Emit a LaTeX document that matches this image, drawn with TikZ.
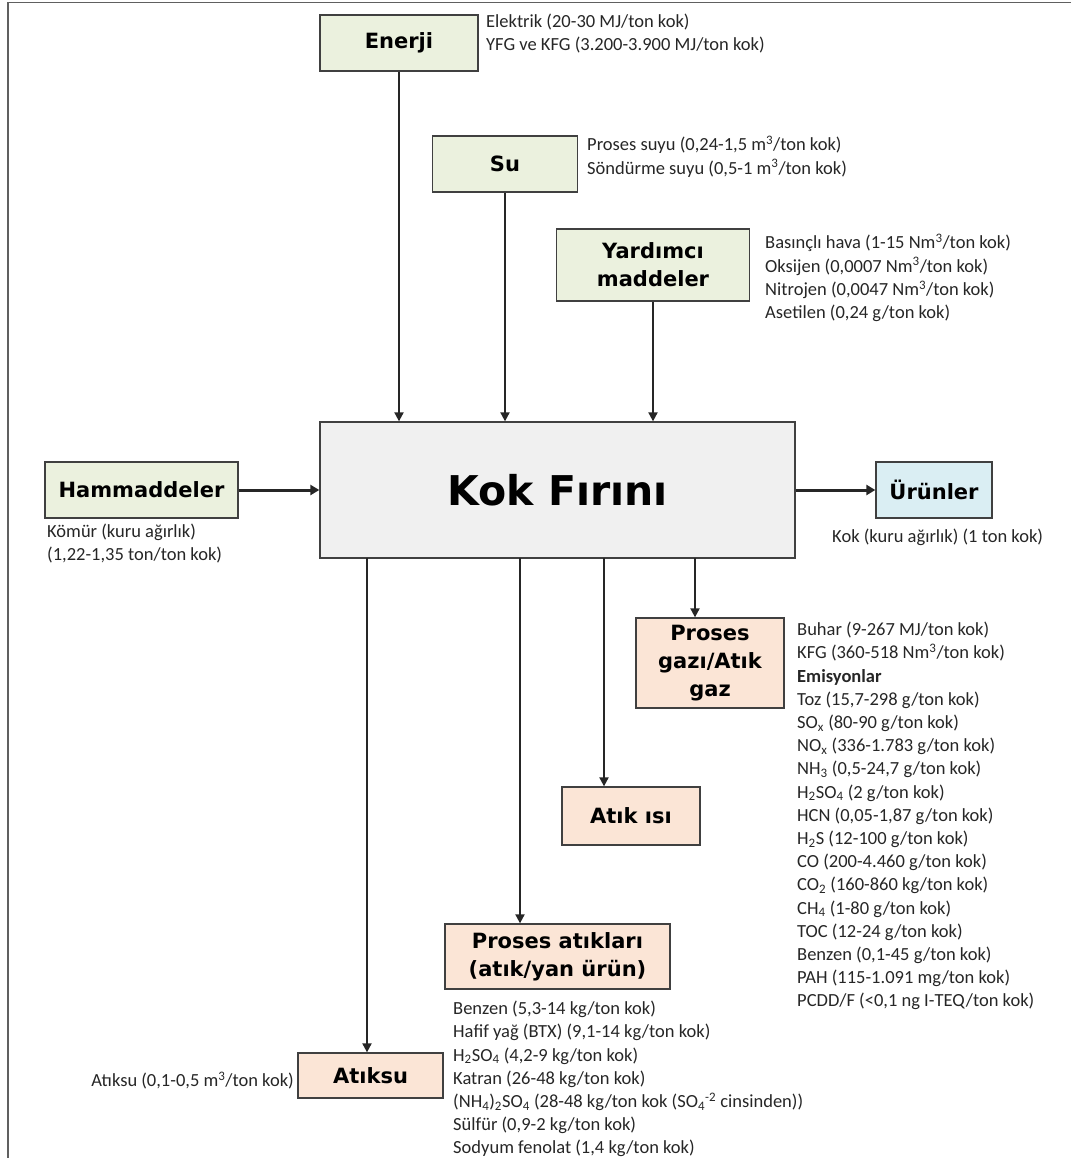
\documentclass[tikz,border=0pt]{standalone}
\usepackage{fontspec}
\setmainfont{Carlito}
\newfontfamily\boxfont{DejaVu Sans}
\usetikzlibrary{arrows.meta,calc}
\definecolor{gfill}{HTML}{EBF1DE}
\definecolor{kfill}{HTML}{F0F0F0}
\definecolor{bfill}{HTML}{DAEEF3}
\definecolor{pfill}{HTML}{FBE5D6}
\definecolor{edge}{HTML}{404040}
\definecolor{frame}{HTML}{606060}
\definecolor{txt}{HTML}{262626}
\newcommand{\sbs}[1]{\textsubscript{#1}}
\newcommand{\sps}[1]{\textsuperscript{#1}}
\begin{document}
\begin{tikzpicture}[x=1pt,y=-1pt,
  boxnode/.style={draw=edge,line width=1.3pt,rectangle,inner sep=0pt,align=center,
     font=\boxfont\bfseries\fontsize{21}{28}\selectfont,text=black},
  gbox/.style={boxnode,fill=gfill},
  pbox/.style={boxnode,fill=pfill},
  lst/.style={inner sep=0pt,align=left,anchor=north west,text=txt,
     font=\fontsize{18.5}{23.2}\selectfont},
  arr/.style={draw=black!85,line width=2pt,-{Triangle[length=9pt,width=9pt]}},
  harr/.style={draw=black!85,line width=3pt,-{Triangle[length=9pt,width=10pt]}}
]
\useasboundingbox (0,0) rectangle (1071,1158);
\draw[frame,line width=1.6pt] (1071,2.5) -- (8,2.5) -- (8,1158);

% boxes
\node[gbox,minimum width=158pt,minimum height=56pt] (enerji) at (399,43) {Enerji};
\node[gbox,minimum width=145pt,minimum height=56pt] (su) at (505,164) {Su};
\node[gbox,minimum width=193pt,minimum height=72pt] (yard) at (653,265) {Yardımcı\\maddeler};
\node[boxnode,fill=kfill,minimum width=475pt,minimum height=136pt,
      font=\boxfont\bfseries\fontsize{41}{48}\selectfont] (kok) at (557.5,490) {Kok Fırını};
\node[gbox,minimum width=193pt,minimum height=56pt] (ham) at (141.5,490) {Hammaddeler};
\node[boxnode,fill=bfill,minimum width=116pt,minimum height=56pt] (urun) at (934,490) {Ürünler};
\node[pbox,minimum width=148pt,minimum height=90pt] (gaz) at (710,663) {Proses\\gazı/Atık\\gaz};
\node[pbox,minimum width=138pt,minimum height=58pt] (isi) at (631,816) {Atık ısı};
\node[pbox,minimum width=225pt,minimum height=65pt] (pa) at (557.5,956.5) {Proses atıkları\\(atık/yan ürün)};
\node[pbox,minimum width=145pt,minimum height=45pt] (atiksu) at (370.5,1075.5) {Atıksu};

% connectors
\draw[arr] (enerji.south) -- (enerji.south |- kok.north);
\draw[arr] (su.south) -- (su.south |- kok.north);
\draw[arr] (yard.south) -- (yard.south |- kok.north);
\draw[harr] (ham.east) -- (ham.east -| kok.west);
\draw[harr] (kok.east |- urun.west) -- (urun.west);
\coordinate (k1) at (367,558);
\coordinate (k2) at (520,558);
\coordinate (k3) at (604,558);
\coordinate (k4) at (695,558);
\draw[arr] (k1) -- (k1 |- atiksu.north);
\draw[arr] (k2) -- (k2 |- pa.north);
\draw[arr] (k3) -- (k3 |- isi.north);
\draw[arr] (k4) -- (k4 |- gaz.north);

% labels
\node[lst] (tEnerji) at (486,14) {Elektrik (20-30 MJ/ton kok)\\YFG ve KFG (3.200-3.900 MJ/ton kok)};
\node[lst] (tSu) at (587,136) {Proses suyu (0,24-1,5 m\sps{3}/ton kok)\\Söndürme suyu (0,5-1 m\sps{3}/ton kok)};
\node[lst] (tYard) at (765,234) {Basınçlı hava (1-15 Nm\sps{3}/ton kok)\\Oksijen (0,0007 Nm\sps{3}/ton kok)\\Nitrojen (0,0047 Nm\sps{3}/ton kok)\\Asetilen (0,24 g/ton kok)};
\node[lst] (tHam) at (47,524) {Kömür (kuru ağırlık)\\(1,22-1,35 ton/ton kok)};
\node[lst] (tUrun) at (832,529) {Kok (kuru ağırlık) (1 ton kok)};
\node[lst] (tGaz) at (797,622) {Buhar (9-267 MJ/ton kok)\\KFG (360-518 Nm\sps{3}/ton kok)\\\textbf{Emisyonlar}\\Toz (15,7-298 g/ton kok)\\SO\sbs{x} (80-90 g/ton kok)\\NO\sbs{x} (336-1.783 g/ton kok)\\NH\sbs{3} (0,5-24,7 g/ton kok)\\H\sbs{2}SO\sbs{4} (2 g/ton kok)\\HCN (0,05-1,87 g/ton kok)\\H\sbs{2}S (12-100 g/ton kok)\\CO (200-4.460 g/ton kok)\\CO\sbs{2} (160-860 kg/ton kok)\\CH\sbs{4} (1-80 g/ton kok)\\TOC (12-24 g/ton kok)\\Benzen (0,1-45 g/ton kok)\\PAH (115-1.091 mg/ton kok)\\PCDD/F (<0,1 ng I-TEQ/ton kok)};
\node[lst] (tPa) at (453,1001) {Benzen (5,3-14 kg/ton kok)\\Hafif yağ (BTX) (9,1-14 kg/ton kok)\\H\sbs{2}SO\sbs{4} (4,2-9 kg/ton kok)\\Katran (26-48 kg/ton kok)\\(NH\sbs{4})\sbs{2}SO\sbs{4} (28-48 kg/ton kok (SO\sbs{4}\sps{-2} cinsinden))\\Sülfür (0,9-2 kg/ton kok)\\Sodyum fenolat (1,4 kg/ton kok)};
\node[lst,anchor=east,text depth=0pt] (tAtiksu) at (294,1079) {Atıksu (0,1-0,5 m\sps{3}/ton kok)};
\end{tikzpicture}
\end{document}
